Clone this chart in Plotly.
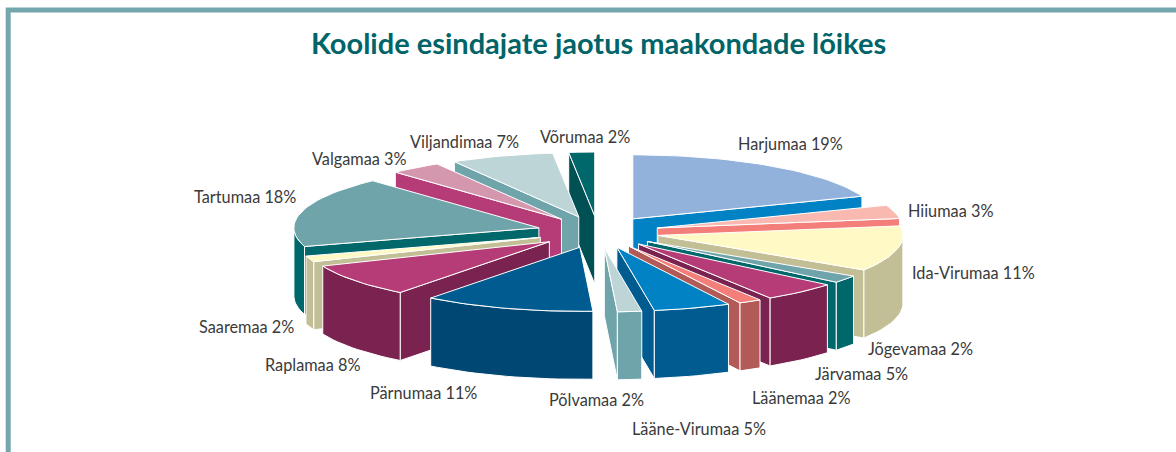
import math
import plotly.graph_objects as go

counties = ["Harjumaa", "Hiiumaa", "Ida-Virumaa", "Jõgevamaa", "Järvamaa", "Läänemaa", "Lääne-Virumaa",
            "Põlvamaa", "Pärnumaa", "Raplamaa", "Saaremaa", "Tartumaa", "Valgamaa", "Viljandimaa", "Võrumaa"]
printed_percent = [19, 3, 11, 2, 5, 2, 5, 2, 11, 8, 2, 18, 3, 7, 2]
shares = [19.3, 3.4, 11.5, 1.9, 5.0, 1.5, 5.1, 1.6, 11.3, 8.4, 1.5, 17.9, 3.4, 6.8, 1.7]
top_colors = ["#92B2DC", "#F9B9B0", "#FFF9C5", "#6FA4AA", "#B53C76", "#F47F7A", "#0082C4",
              "#BDD5D7", "#005C90", "#B53C76", "#FFF9C5", "#6FA4AA", "#D497AE", "#BDD5D7", "#00676A"]
wall_colors = ["#0082C4", "#F47F7A", "#C2BE95", "#00676A", "#7B2350", "#B25A57", "#005C90",
               "#6FA4AA", "#004873", "#7B2350", "#C2BE95", "#00676A", "#B53C76", "#6FA4AA", "#005054"]
label_pos = [(790, 143), (950, 210), (973, 272), (920, 348), (861, 373), (801, 397), (699, 428),
             (596, 399), (423, 392), (312, 364), (246, 326), (245, 196), (359, 158), (464, 141), (585, 136)]

CX, CY, RX, RY, DEPTH, PULL = 598, 232, 245, 64, 68, 0.25


def project(r, deg, ox, oy, dz=0):
    a = math.radians(deg)
    return ox + r * RX * math.sin(a), oy - r * RY * math.cos(a) + dz


fig = go.Figure()


def face(pts, color):
    xs = [p[0] for p in pts] + [pts[0][0]]
    ys = [p[1] for p in pts] + [pts[0][1]]
    fig.add_trace(go.Scatter(x=xs, y=ys, mode="lines", fill="toself", fillcolor=color,
                             line=dict(color="white", width=1), hoverinfo="skip", showlegend=False))


total = sum(shares)
slices, start = [], 0.0
for i, v in enumerate(shares):
    sweep = v / total * 360
    slices.append((i, start, start + sweep))
    start += sweep
slices.sort(key=lambda s: math.cos(math.radians((s[1] + s[2]) / 2)), reverse=True)

for i, a0, a1 in slices:
    mid = (a0 + a1) / 2
    ox, oy = project(PULL, mid, CX, CY)
    n = max(3, int((a1 - a0) / 2))
    angles = [a0 + (a1 - a0) * k / n for k in range(n + 1)]
    arc = [project(1, d, ox, oy) for d in angles]
    apex = (ox, oy)
    # cut faces that look towards the viewer
    for d, edge_sign in ((a0, -1), (a1, 1)):
        p = project(1, d, ox, oy)
        ny = -math.cos(math.radians(d + edge_sign * 90))
        if ny > 0.001:
            face([apex, p, (p[0], p[1] + DEPTH), (apex[0], apex[1] + DEPTH)], wall_colors[i])
    # rim, split where it turns away from the viewer
    run = []
    for k in range(n):
        if math.cos(math.radians((angles[k] + angles[k + 1]) / 2)) < 0:
            run.append(k)
    if run:
        seg = arc[run[0]:run[-1] + 2]
        face(seg + [(x, y + DEPTH) for x, y in reversed(seg)], wall_colors[i])
    face([apex] + arc, top_colors[i])

annotations = [dict(x=x, y=y, text=f"{c} {v}%", showarrow=False, xanchor="center", yanchor="middle",
                    font=dict(family="Lato", size=16.3, color="#3A3A3A"))
               for c, v, (x, y) in zip(counties, printed_percent, label_pos)]
annotations.append(dict(x=598.5, y=42, text="<b>Koolide esindajate jaotus maakondade lõikes</b>", showarrow=False,
                        xanchor="center", yanchor="middle", font=dict(family="Lato", size=29, color="#006468")))

frame = dict(type="path", path="M 8.2 452 L 8.2 10 L 1176 10",
             line=dict(color="#74A7AD", width=5))
fig.update_layout(width=1176, height=452, margin=dict(l=0, r=0, t=0, b=0),
                  paper_bgcolor="white", plot_bgcolor="white",
                  xaxis=dict(range=[0, 1176], visible=False, fixedrange=True),
                  yaxis=dict(range=[452, 0], visible=False, fixedrange=True),
                  annotations=annotations, shapes=[frame], showlegend=False)
fig.write_html("out.html", config={"displayModeBar": False},
               post_script="document.body.style.margin='0';document.documentElement.style.overflow='hidden';")
